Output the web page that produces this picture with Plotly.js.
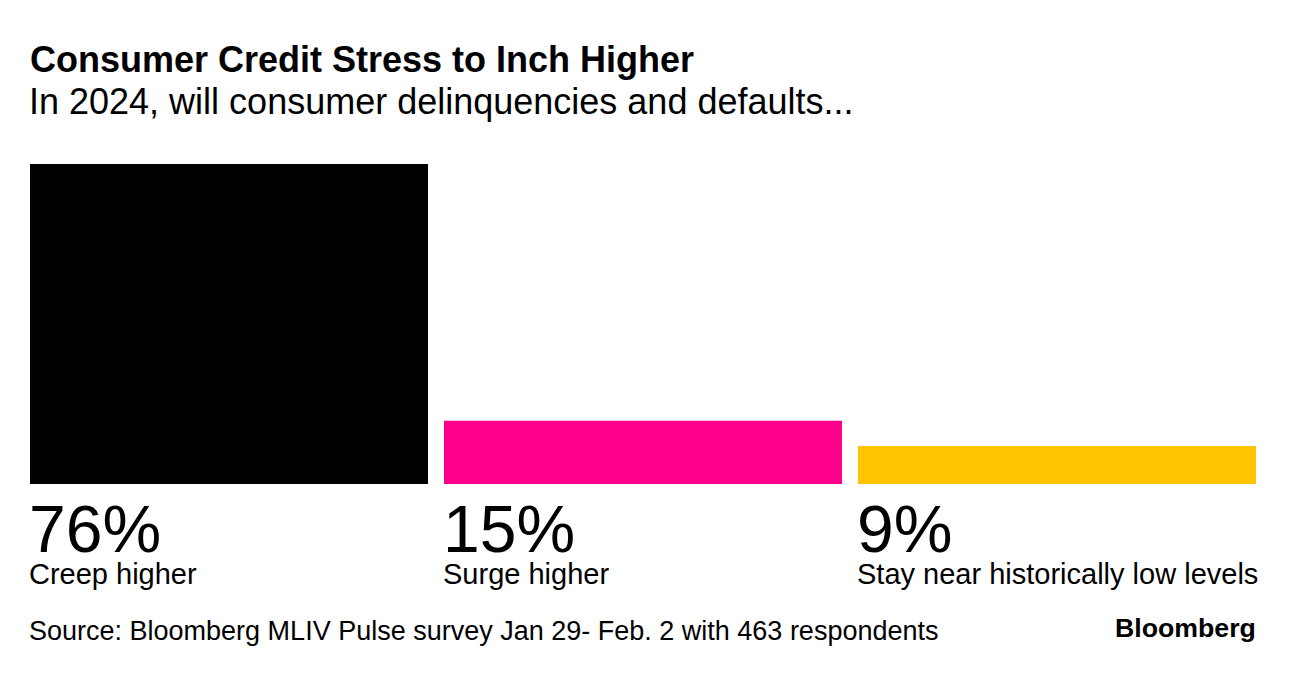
<!DOCTYPE html>
<html>
<head>
<meta charset="utf-8">
<script src="https://cdn.plot.ly/plotly-3.0.1.min.js"></script>
<style>
html,body{margin:0;padding:0;background:#fff;}
#chart{width:1296px;height:674px;}
</style>
</head>
<body>
<div id="chart"></div>
<script>
// ---- data ----
const categories = ['Creep higher', 'Surge higher', 'Stay near historically low levels'];
const values = [76, 15, 9];
const valueLabels = ['76%', '15%', '9%'];
const barColors = ['#000000', '#ff008c', '#ffc400'];
const titleText = 'Consumer Credit Stress to Inch Higher';
const subtitleText = 'In 2024, will consumer delinquencies and defaults...';
const sourceText = 'Source: Bloomberg MLIV Pulse survey Jan 29- Feb. 2 with 463 respondents';
const brandText = 'Bloomberg';

// ---- layout helpers ----
const W = 1296, H = 674;
const M = {l: 30, r: 40, t: 164, b: 190};
const plotH = H - M.t - M.b;
const barWidth = 398 / 414;
const FONT = 'Liberation Sans, Arial, Helvetica, sans-serif';
function py(top) { return 1 + (M.t - top) / plotH; }

const idx = categories.map((c, i) => i);

const trace = {
  type: 'bar',
  x: idx,
  y: values,
  width: barWidth,
  marker: {color: barColors, line: {width: 0}},
  hoverinfo: 'skip',
  showlegend: false
};

const annotations = [];
idx.forEach(i => {
  annotations.push({
    xref: 'x', yref: 'paper', x: i - barWidth / 2, y: 0,
    xanchor: 'left', yanchor: 'top', yshift: -6, xshift: -3, align: 'left',
    text: '<span style="font-size:66px">' + valueLabels[i] + '</span><br>' +
          '<span style="font-size:29px">' + categories[i] + '</span>',
    showarrow: false,
    font: {family: FONT, size: 24.6, color: '#000'}
  });
});
annotations.push({
  xref: 'paper', yref: 'paper', x: 0, y: py(79), xanchor: 'left', yanchor: 'top', xshift: -3,
  text: subtitleText, showarrow: false,
  font: {family: FONT, size: 36, color: '#000'}
});
annotations.push({
  xref: 'paper', yref: 'paper', x: 0, y: py(614), xanchor: 'left', yanchor: 'top', xshift: -3,
  text: sourceText, showarrow: false,
  font: {family: FONT, size: 27, color: '#000'}
});
annotations.push({
  xref: 'paper', yref: 'paper', x: 1, y: py(611), xanchor: 'right', yanchor: 'top', xshift: 2,
  text: '<b>' + brandText + '</b>', showarrow: false,
  font: {family: FONT, size: 26.7, color: '#000'}
});

const layout = {
  width: W, height: H,
  margin: M,
  paper_bgcolor: '#fff', plot_bgcolor: '#fff',
  title: {
    text: '<b>' + titleText + '</b>',
    x: 0, xref: 'paper', xanchor: 'left',
    y: 1 - 47 / H, yref: 'container', yanchor: 'top',
    font: {family: FONT, size: 36, color: '#000'}
  },
  xaxis: {range: [-barWidth / 2, 2 + barWidth / 2], visible: false, fixedrange: true},
  yaxis: {range: [0, 76], visible: false, fixedrange: true},
  annotations: annotations,
  showlegend: false
};

Plotly.newPlot('chart', [trace], layout, {displayModeBar: false, staticPlot: true});
</script>
</body>
</html>
